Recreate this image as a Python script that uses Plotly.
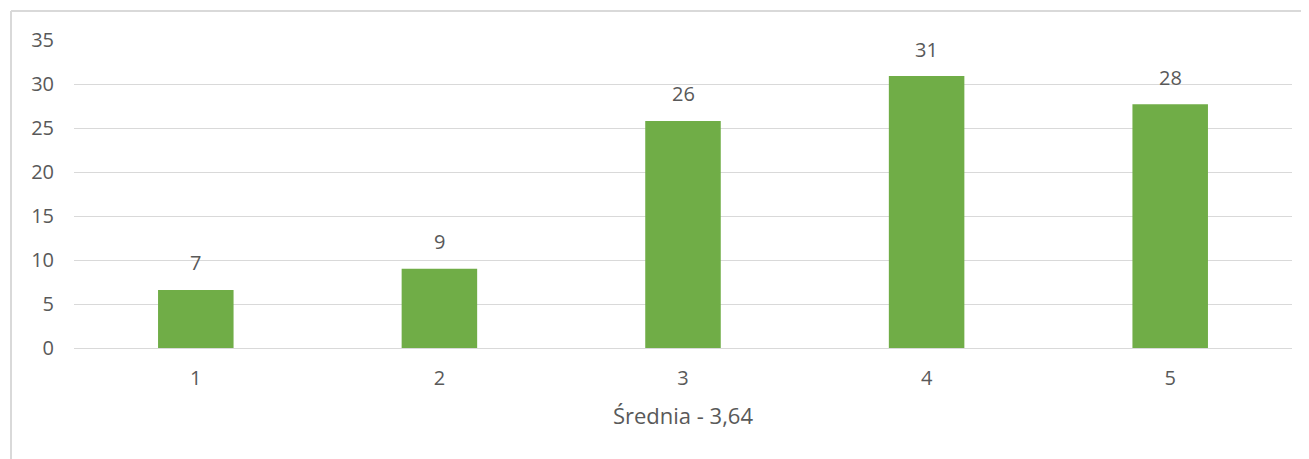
import plotly.graph_objects as go

categories = ["1", "2", "3", "4", "5"]
values = [6.6, 9.0, 25.8, 30.9, 27.7]
labels = [f"{round(v)}" for v in values]
y_ticks = [0, 5, 10, 15, 20, 25, 30, 35]
x_title = "Średnia - 3,64"

# page body has an 8px margin, so the figure is slightly smaller
OFF = 8
W, H = 1309 - OFF, 459 - OFF
L, R, T, B = 74 - OFF, 17, 40 - OFF, 111
pw, ph = W - L - R, H - T - B

font = dict(family="Open Sans, Liberation Sans, sans-serif", size=20, color="#595959")
title_font = dict(font, size=22)

fig = go.Figure(go.Bar(
    x=categories, y=values,
    marker=dict(color="#70ad47", line=dict(width=0)),
    width=0.31, hoverinfo="x+y",
))

for i, (v, t) in enumerate(zip(values, labels)):
    fig.add_annotation(x=i, y=v, text=t, showarrow=False, yanchor="middle",
                       yshift=27, font=font)

fx = lambda px: (px - OFF - L) / pw
fy = lambda py: (H - B - (py - OFF)) / ph

fig.update_layout(
    width=W, height=H,
    margin=dict(l=L, r=R, t=T, b=B, autoexpand=False),
    paper_bgcolor="white", plot_bgcolor="white",
    showlegend=False,
    font=font,
    xaxis=dict(type="category", range=[-0.5, len(categories) - 0.5],
               showgrid=False, showline=False, ticks="",
               tickfont=font, ticklabelstandoff=16,
               title=dict(text=x_title, font=title_font, standoff=18)),
    yaxis=dict(range=[0, 35], tickvals=y_ticks, showgrid=True, gridcolor="#d9d9d9",
               gridwidth=1, zeroline=True, zerolinecolor="#d9d9d9", zerolinewidth=1,
               showline=False, ticks="", tickfont=font, ticklabelstandoff=19),
    shapes=[
        dict(type="line", xref="paper", yref="paper", x0=fx(11), x1=fx(1309 + 20), y0=fy(11), y1=fy(11),
             line=dict(color="#d9d9d9", width=2)),
        dict(type="line", xref="paper", yref="paper", x0=fx(11), x1=fx(11), y0=fy(11), y1=fy(459 + 20),
             line=dict(color="#d9d9d9", width=2)),
    ],
)

fig.write_html("out.html")
